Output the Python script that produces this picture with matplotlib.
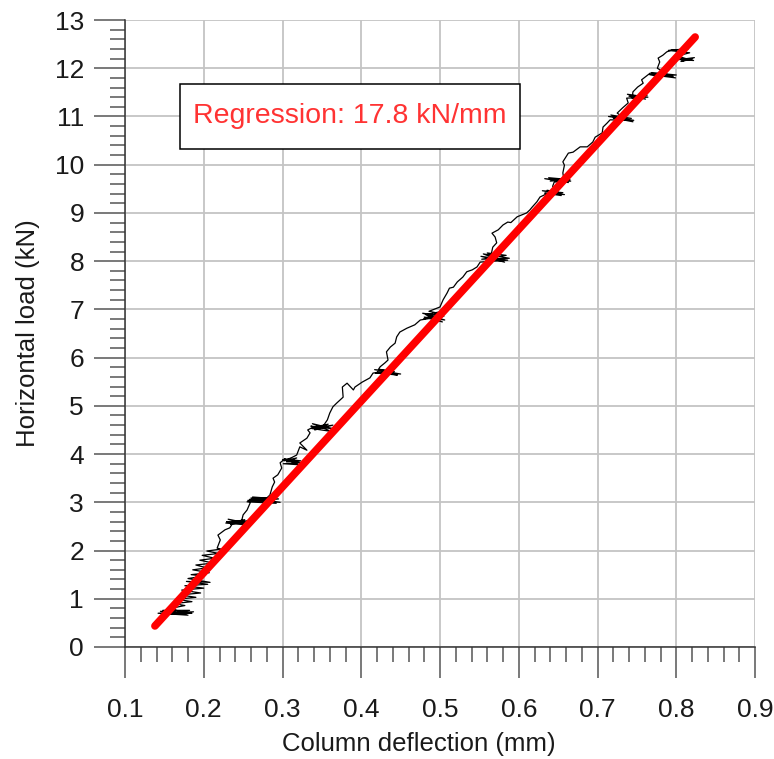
import matplotlib
matplotlib.use("Agg")
import matplotlib.pyplot as plt
from matplotlib.ticker import MultipleLocator
from matplotlib.patches import Rectangle

plt.rcParams['font.family'] = ['Liberation Sans', 'DejaVu Sans']

# Measured load-deflection path (mm, kN); the tight back-and-forth groups are
# the unload/reload cycles at each load step
deflection_mm = [
    0.150, 0.185, 0.145, 0.180, 0.142, 0.187, 0.152, 0.182, 0.148, 0.178, 0.158,
    0.176, 0.162, 0.185, 0.166, 0.190, 0.170, 0.196, 0.172, 0.200, 0.176, 0.205,
    0.178, 0.208, 0.180, 0.200, 0.184, 0.207, 0.186, 0.204, 0.190, 0.212, 0.195,
    0.214, 0.198, 0.219, 0.204, 0.222,
    0.217, 0.221, 0.218, 0.227, 0.233, 0.237,
    0.229, 0.258, 0.231, 0.255, 0.228, 0.257, 0.234, 0.252, 0.236, 0.248,
    0.250, 0.255, 0.259,
    0.256, 0.297, 0.260, 0.292, 0.255, 0.295, 0.262, 0.288, 0.258, 0.280,
    0.284, 0.287, 0.290, 0.288, 0.294, 0.299, 0.297, 0.303,
    0.300, 0.324, 0.301, 0.320, 0.303, 0.323, 0.305, 0.318, 0.302, 0.312,
    0.318, 0.322, 0.331, 0.322, 0.331, 0.335, 0.332, 0.339,
    0.336, 0.366, 0.338, 0.362, 0.337, 0.364, 0.341, 0.358, 0.340, 0.352,
    0.357, 0.360, 0.364, 0.369, 0.373, 0.377, 0.376, 0.382, 0.390, 0.392, 0.401,
    0.411, 0.415,
    0.440, 0.417, 0.450, 0.420, 0.446, 0.418, 0.442, 0.422,
    0.424, 0.430, 0.434, 0.432, 0.437, 0.443, 0.445, 0.449, 0.458, 0.468, 0.475,
    0.505, 0.478, 0.506, 0.480, 0.503, 0.482, 0.500, 0.479, 0.504, 0.486,
    0.500, 0.504, 0.509, 0.512, 0.517, 0.522, 0.529, 0.534, 0.541, 0.547, 0.551,
    0.586, 0.552, 0.582, 0.555, 0.588, 0.553, 0.584, 0.560, 0.578, 0.565,
    0.567, 0.572, 0.570, 0.566, 0.574, 0.580, 0.586, 0.590, 0.598, 0.610, 0.614,
    0.617, 0.623, 0.627, 0.636,
    0.656, 0.630, 0.658, 0.633, 0.654, 0.636, 0.650,
    0.643, 0.645,
    0.666, 0.633, 0.663, 0.638, 0.665, 0.640, 0.657,
    0.656, 0.658, 0.656, 0.663, 0.669, 0.678, 0.687, 0.694, 0.697, 0.706, 0.707,
    0.712, 0.716,
    0.746, 0.714, 0.743, 0.717, 0.745, 0.720, 0.736,
    0.725, 0.732, 0.739, 0.737,
    0.764, 0.738, 0.761, 0.740, 0.763, 0.744,
    0.745, 0.751, 0.758, 0.756, 0.767,
    0.799, 0.766, 0.796, 0.769, 0.800, 0.772, 0.788,
    0.776, 0.779, 0.777, 0.783, 0.788, 0.795,
    0.815, 0.790, 0.817, 0.800, 0.822, 0.804, 0.823, 0.806, 0.820, 0.802, 0.812,
]
load_kN = [
    0.72, 0.70, 0.74, 0.66, 0.70, 0.73, 0.67, 0.76, 0.76, 0.69, 0.80,
    0.86, 0.90, 0.94, 0.99, 1.03, 1.08, 1.12, 1.18, 1.22, 1.27, 1.30,
    1.36, 1.34, 1.42, 1.47, 1.50, 1.54, 1.60, 1.64, 1.70, 1.74, 1.80,
    1.84, 1.90, 1.94, 1.99, 2.03,
    2.05, 2.22, 2.32, 2.43, 2.47, 2.57,
    2.60, 2.56, 2.65, 2.53, 2.57, 2.62, 2.54, 2.64, 2.59, 2.61,
    2.74, 2.84, 2.99,
    3.04, 3.00, 3.09, 2.98, 3.01, 3.07, 3.11, 3.03, 3.06, 3.09,
    3.15, 3.32, 3.42, 3.50, 3.57, 3.71, 3.82, 3.90,
    3.88, 3.82, 3.80, 3.78, 3.90, 3.86, 3.84, 3.92, 3.86, 3.93,
    3.98, 4.15, 4.08, 4.23, 4.33, 4.44, 4.50, 4.56,
    4.58, 4.52, 4.63, 4.47, 4.53, 4.60, 4.50, 4.62, 4.56, 4.59,
    4.71, 4.85, 4.98, 5.06, 5.12, 5.18, 5.39, 5.47, 5.33, 5.39, 5.49,
    5.58, 5.68,
    5.72, 5.75, 5.66, 5.70, 5.64, 5.68, 5.71, 5.76,
    5.81, 5.89, 5.95, 6.12, 6.22, 6.30, 6.43, 6.53, 6.61, 6.68, 6.78,
    6.86, 6.92, 6.78, 6.84, 6.74, 6.89, 6.95, 6.80, 6.90, 6.96,
    7.05, 7.20, 7.34, 7.44, 7.46, 7.57, 7.67, 7.78, 7.82, 7.88, 7.98,
    8.02, 8.10, 7.98, 8.15, 8.06, 8.04, 8.12, 8.17, 8.00, 8.14,
    8.29, 8.38, 8.50, 8.58, 8.65, 8.75, 8.81, 8.80, 8.92, 9.00, 9.06,
    9.12, 9.23, 9.33, 9.40,
    9.42, 9.46, 9.38, 9.41, 9.36, 9.47, 9.43,
    9.55, 9.64,
    9.66, 9.71, 9.63, 9.73, 9.69, 9.66, 9.72,
    9.83, 9.99, 10.06, 10.24, 10.26, 10.37, 10.37, 10.47, 10.57, 10.66, 10.78,
    10.86, 10.93,
    10.92, 11.00, 10.96, 11.03, 10.89, 10.97, 10.94,
    11.07, 11.18, 11.28, 11.38,
    11.40, 11.46, 11.36, 11.42, 11.44, 11.38,
    11.51, 11.61, 11.69, 11.76, 11.90,
    11.80, 11.87, 11.83, 11.91, 11.86, 11.84, 11.88,
    12.00, 12.13, 12.21, 12.27, 12.34, 12.38,
    12.40, 12.37, 12.32, 12.25, 12.16, 12.18, 12.22, 12.14, 12.19, 12.21, 12.36,
]

# Linear regression line
stiffness = 17.8      # kN/mm
intercept = -2.02     # kN
fit_x = [0.138, 0.824]
fit_y = [stiffness * x + intercept for x in fit_x]

x_ticks = [0.1, 0.2, 0.3, 0.4, 0.5, 0.6, 0.7, 0.8, 0.9]
y_ticks = list(range(0, 14))

fig = plt.figure(figsize=(7.74, 7.59), dpi=100)
ax = fig.add_axes([125 / 774, 1 - 647 / 759, 630 / 774, 627 / 759])

ax.set_xlim(0.1, 0.9)
ax.set_ylim(0, 13)
ax.set_xticks(x_ticks)
ax.set_xticklabels([f"{t:.1f}" for t in x_ticks])
ax.set_yticks(y_ticks)
ax.xaxis.set_minor_locator(MultipleLocator(0.02))
ax.yaxis.set_minor_locator(MultipleLocator(0.2))

ax.grid(True, which='major', color='#c4c4c4', linewidth=1.3, zorder=0)
ax.set_axisbelow(True)

for side in ('top', 'right'):
    ax.spines[side].set_visible(False)
for side in ('left', 'bottom'):
    ax.spines[side].set_color('#333333')
    ax.spines[side].set_linewidth(1.1)

ax.tick_params(which='major', direction='out', length=22.5, width=1.1,
               color='#555555', labelsize=19, labelcolor='#1a1a1a')
ax.tick_params(axis='x', which='major', pad=14)
ax.tick_params(axis='y', which='major', pad=7)
ax.tick_params(which='minor', direction='out', length=11, width=1.1,
               color='#555555')

ax.plot(deflection_mm, load_kN, color='black', linewidth=0.9, zorder=3)
ax.plot(fit_x, fit_y, color='#ff0000', linewidth=5.5,
        solid_capstyle='round', zorder=4)

ax.add_patch(Rectangle((0.170, 10.33), 0.4316, 1.34, facecolor='white',
                       edgecolor='black', linewidth=1.1, zorder=5))
ax.text(0.170 + 0.4316 / 2, 11.0, f"Regression: {stiffness} kN/mm",
        color='#ff3333', fontsize=20.5, ha='center', va='center', zorder=6)

ax.set_xlabel("Column deflection (mm)", fontsize=18.5, color='#1a1a1a')
ax.set_ylabel("Horizontal load (kN)", fontsize=18.5, color='#1a1a1a')
ax.xaxis.set_label_coords(0.466, -0.135)
ax.yaxis.set_label_coords(-0.135, 0.5)

fig.savefig("out.png", dpi=100)
